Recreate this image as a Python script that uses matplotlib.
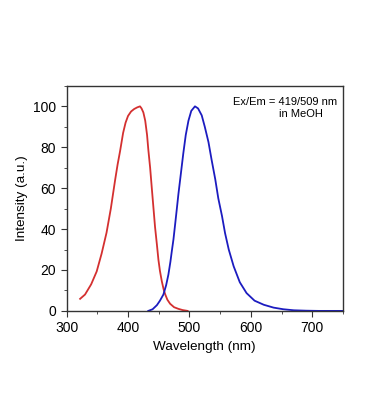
import matplotlib.pyplot as plt
from matplotlib.ticker import MultipleLocator

plt.rcParams['font.family'] = ['Liberation Sans', 'DejaVu Sans']

# excitation (red)
ex_wl = [322, 330, 340, 349, 357, 365, 372, 379, 383, 387, 392, 396, 400, 405,
         410, 415, 419.5, 422, 425, 428, 431, 433, 436, 439, 441.5, 444, 447,
         449.5, 452, 455, 458, 460.4, 464, 468.5, 475, 482, 489, 497]
ex_int = [5.9, 8, 13, 19.3, 28, 38.2, 50, 64, 71.5, 78, 87, 92, 95.3, 97.5,
          98.7, 99.5, 100, 99, 97, 93, 86, 79, 70, 59, 50, 41, 32.5,
          25, 19.5, 14.5, 10.5, 8.2, 5.5, 3.5, 1.8, 1, 0.4, 0]

# emission (blue)
em_wl = [433, 440, 447, 452, 457.6, 462, 465.7, 469, 471.3, 474, 476.7, 479.5,
         482, 486, 490, 494, 498.4, 503, 509, 514, 520, 525, 531, 536, 542,
         547, 553, 558, 564, 572, 582, 593, 606, 621, 637, 653, 670, 690, 710,
         750]
em_int = [0, 0.8, 2.8, 5, 8, 12.5, 17.7, 24, 29.2, 35, 42.3, 50,
          57, 67, 77, 86, 93, 97.8, 100, 99, 95.6, 90, 82.5, 74, 64.4,
          55, 46.4, 38, 30, 21.8, 14, 8.7, 5, 3, 1.6, 0.8, 0.3, 0.1, 0,
          0]

fig = plt.figure(figsize=(3.7, 4.19), dpi=100)
ax = fig.add_axes([0.180, 0.258, 0.747, 0.537])

ax.plot(ex_wl, ex_int, color='#d43030', lw=1.3)
ax.plot(em_wl, em_int, color='#1c1cc0', lw=1.3)

ax.set_xlim(300, 750)
ax.set_ylim(0, 110)
ax.xaxis.set_major_locator(MultipleLocator(100))
ax.xaxis.set_minor_locator(MultipleLocator(50))
ax.yaxis.set_major_locator(MultipleLocator(20))
ax.yaxis.set_minor_locator(MultipleLocator(10))
ax.tick_params(which='both', direction='out', labelsize=10, top=False, right=False,
               color='#333333')
ax.tick_params(which='major', length=4)
ax.tick_params(which='minor', length=2.5)
for s in ax.spines.values():
    s.set_color('#333333')
    s.set_linewidth(1.0)

ax.set_xlabel('Wavelength (nm)', fontsize=9.7, labelpad=4)
ax.set_ylabel('Intensity (a.u.)', fontsize=9.7, labelpad=4)

ax.text(0.98, 0.93, 'Ex/Em = 419/509 nm', transform=ax.transAxes,
        ha='right', va='center', fontsize=8)
ax.text(0.928, 0.875, 'in MeOH', transform=ax.transAxes,
        ha='right', va='center', fontsize=8)

fig.savefig('out.png', dpi=100)
